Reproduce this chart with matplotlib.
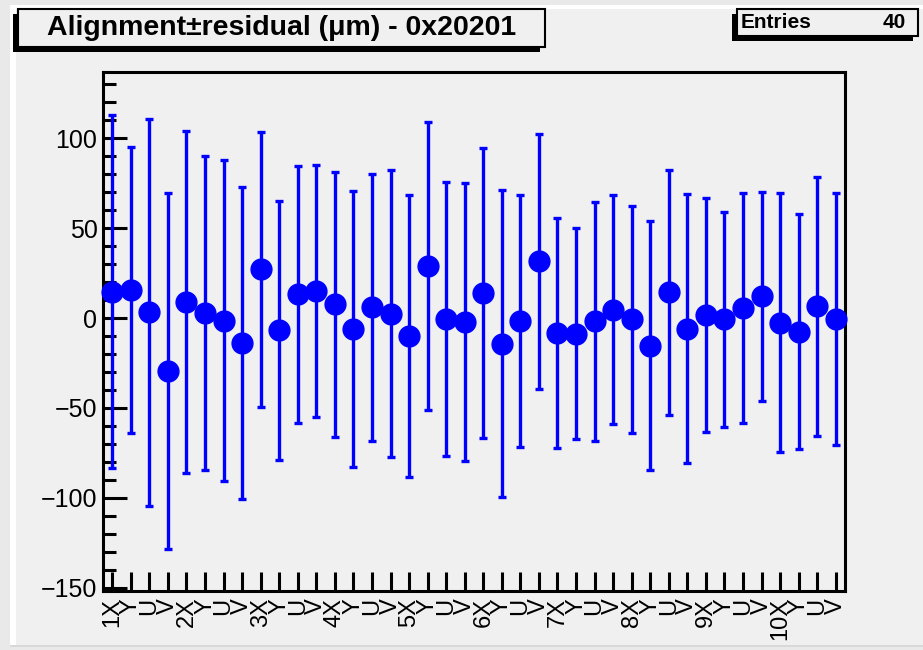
import matplotlib
matplotlib.use('Agg')
import numpy as np
from matplotlib import pyplot as plt
from matplotlib.patches import Rectangle

# bin labels: planes X,Y,U,V for 10 stations
labels = []
for st in range(1, 11):
    labels += ['%dX' % st, 'Y', 'U', 'V']

residual = [14.6, 15.8, 3.1, -29.3, 9.1, 2.9, -1.5, -13.8, 27.1, -6.9,
            13.3, 14.9, 7.6, -6.0, 6.0, 2.4, -10.1, 28.8, -0.5, -2.3,
            13.7, -14.3, -1.6, 31.4, -8.5, -8.8, -1.9, 4.5, -0.8, -15.3,
            14.3, -5.9, 1.7, -0.6, 5.6, 12.0, -2.6, -7.7, 6.5, -0.6]
error = [98.2, 79.5, 107.4, 98.8, 95.0, 87.3, 89.3, 86.8, 76.4, 72.1,
         71.4, 70.1, 73.7, 76.6, 74.1, 79.8, 78.4, 79.9, 76.2, 77.1,
         80.6, 85.4, 69.9, 70.7, 63.9, 58.6, 66.2, 63.6, 63.2, 69.0,
         68.0, 74.6, 64.8, 59.7, 63.7, 57.9, 71.9, 65.3, 72.1, 70.2]

title = 'Alignment\u00b1residual (\u03bcm) - 0x20201'
n_entries = len(residual)

W, H = 923, 650
plt.rcParams['font.family'] = ['Liberation Sans', 'DejaVu Sans']
fig = plt.figure(figsize=(W / 100, H / 100), dpi=100, facecolor='#e9e9e9')


def px_rect(x0, y0, x1, y1, **kw):
    # rectangle given in image pixels (y from top)
    r = Rectangle((x0 / W, 1 - y1 / H), (x1 - x0) / W, (y1 - y0) / H,
                  transform=fig.transFigure, **kw)
    fig.patches.append(r)
    return r


# canvas bevel + pad
px_rect(10, 5, W, H - 3, facecolor='white', edgecolor='none', zorder=-3)
px_rect(16, 9, W, H - 5, facecolor='#f0f0f0', edgecolor='none', zorder=-2)
px_rect(10, H - 5, W, H - 3, facecolor='#d8d8d8', edgecolor='none', zorder=-2)

ax = fig.add_axes([103 / W, 59 / H, 742 / W, 519 / H])
ax.set_zorder(2)
ax.set_facecolor('#f0f0f0')
x = np.arange(n_entries) + 0.5
ax.errorbar(x, residual, yerr=error, fmt='o', color='#0000ff', ms=15,
            elinewidth=2.4, capsize=3.2, capthick=2.4, zorder=3, clip_on=False)
ax.set_xlim(0, n_entries)
ax.set_ylim(-151.7, 136.7)

for s in ax.spines.values():
    s.set_linewidth(2.2)
ax.set_yticks([-150, -100, -50, 0, 50, 100])
ax.set_yticklabels(['\u2212150', '\u2212100', '\u221250', '0', '50', '100'])
ax.set_yticks(np.arange(-150, 131, 10), minor=True)
ax.tick_params(axis='y', direction='in', length=17, width=2.2, labelsize=18, pad=4)
ax.tick_params(axis='y', which='minor', direction='in', length=9, width=2.2)
ax.set_xticks(x)
ax.set_xticklabels(labels, rotation=90, fontsize=17)
ax.tick_params(axis='x', direction='in', length=14, width=2.2, pad=5)
for lab in ax.get_xticklabels():
    lab.set_verticalalignment('top')

# title pave with shadow
px_rect(13, 14, 540, 52, facecolor='black', edgecolor='none', zorder=5)
px_rect(18, 9, 545, 47, facecolor='#f0f0f0', edgecolor='black', lw=1.5, zorder=6)
fig.text((18 + 545) / 2 / W, 1 - 28 / H, title, ha='center', va='center',
         fontsize=20.5, fontweight='bold', zorder=7)

# stats box with shadow
px_rect(732, 14, 913, 41, facecolor='black', edgecolor='none', zorder=5)
px_rect(737, 9, 918, 36, facecolor='#f0f0f0', edgecolor='black', lw=1.5, zorder=6)
fig.text(741 / W, 1 - 23 / H, 'Entries', ha='left', va='center',
         fontsize=15, fontweight='bold', zorder=7)
fig.text(906 / W, 1 - 23 / H, str(n_entries), ha='right', va='center',
         fontsize=15, fontweight='bold', zorder=7)

fig.savefig('out.png', dpi=100, facecolor=fig.get_facecolor())
